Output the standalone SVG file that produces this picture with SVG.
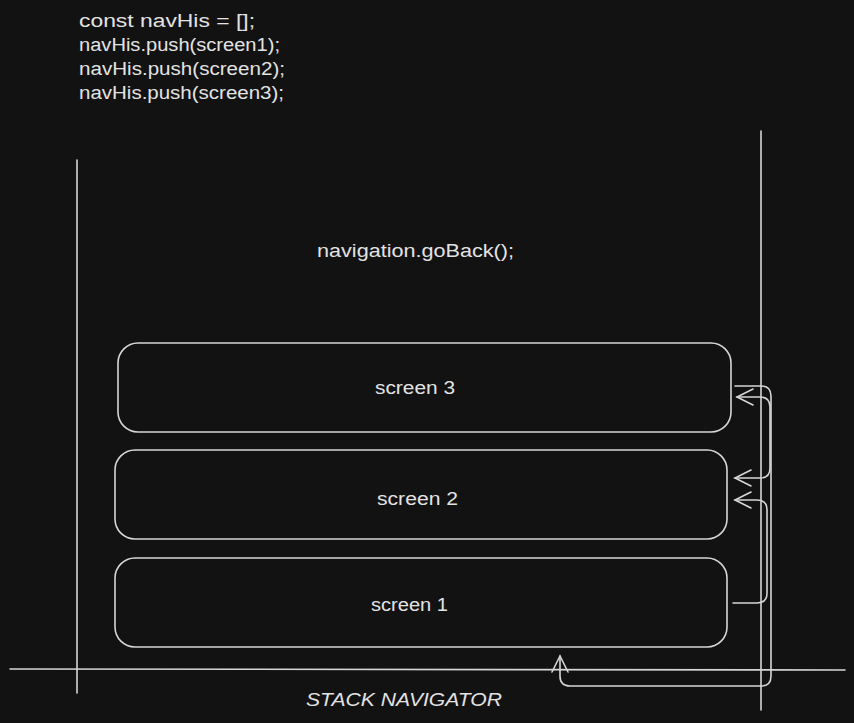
<svg xmlns="http://www.w3.org/2000/svg" width="854" height="723" viewBox="0 0 854 723">
<defs>
<style>
.bg{fill:#121212}
.ln{fill:none;stroke:#d6d6d6;stroke-width:1.6;stroke-linecap:round;stroke-linejoin:round}
.box{fill:none;stroke:#d6d6d6;stroke-width:1.6}
.t{fill:#e3e3e3;font-family:"Liberation Sans","DejaVu Sans",sans-serif;font-size:18px}
.c{text-anchor:middle}
</style>
<marker id="ah" viewBox="0 0 20 20" refX="18" refY="10" markerWidth="20" markerHeight="20" markerUnits="userSpaceOnUse" orient="auto-start-reverse">
<path d="M2,2 L18,10 L2,18" fill="none" stroke="#d6d6d6" stroke-width="1.6" stroke-linecap="round"/>
</marker>
</defs>
<rect class="bg" x="0" y="0" width="854" height="723"/>
<g id="code">
<text class="t" x="79" y="27" textLength="176" lengthAdjust="spacingAndGlyphs">const navHis = [];</text>
<text class="t" x="79" y="51" textLength="201" lengthAdjust="spacingAndGlyphs">navHis.push(screen1);</text>
<text class="t" x="79" y="75" textLength="206" lengthAdjust="spacingAndGlyphs">navHis.push(screen2);</text>
<text class="t" x="79" y="99" textLength="205" lengthAdjust="spacingAndGlyphs">navHis.push(screen3);</text>
</g>
<g id="goback">
<text class="t" x="317" y="257" textLength="197" lengthAdjust="spacingAndGlyphs">navigation.goBack();</text>
</g>
<g id="axes">
<line class="ln" x1="77" y1="160" x2="77" y2="693"/>
<line class="ln" x1="761" y1="131" x2="761" y2="710"/>
<line class="ln" x1="10" y1="669" x2="845" y2="670"/>
</g>
<g id="screen3">
<rect class="box" x="118" y="343" width="613" height="89" rx="20"/>
<text class="t" x="375" y="394" textLength="80" lengthAdjust="spacingAndGlyphs">screen 3</text>
</g>
<g id="screen2">
<rect class="box" x="115" y="450" width="612" height="89" rx="20"/>
<text class="t" x="377" y="505" textLength="81" lengthAdjust="spacingAndGlyphs">screen 2</text>
</g>
<g id="screen1">
<rect class="box" x="115" y="558" width="612" height="89" rx="20"/>
<text class="t" x="371" y="611" textLength="77" lengthAdjust="spacingAndGlyphs">screen 1</text>
</g>
<g id="label">
<text class="t" x="306" y="706" font-style="italic" textLength="196" lengthAdjust="spacingAndGlyphs">STACK NAVIGATOR</text>
</g>
<g id="connectors">
<path class="ln" d="M733,603 L757,603 Q767,603 767,593 L767,510 Q767,500 757,500 L735,500" marker-end="url(#ah)"/>
<path class="ln" d="M735,478 L760,478 Q770,478 770,468 L770,407 Q770,397 760,397 L737,397" marker-start="url(#ah)" marker-end="url(#ah)"/>
<path class="ln" d="M735,386 L761,386 Q771,386 771,396 L771,676 Q771,686 761,686 L570,686 Q560,686 560,676 L560,656" marker-end="url(#ah)"/>
</g>
</svg>
